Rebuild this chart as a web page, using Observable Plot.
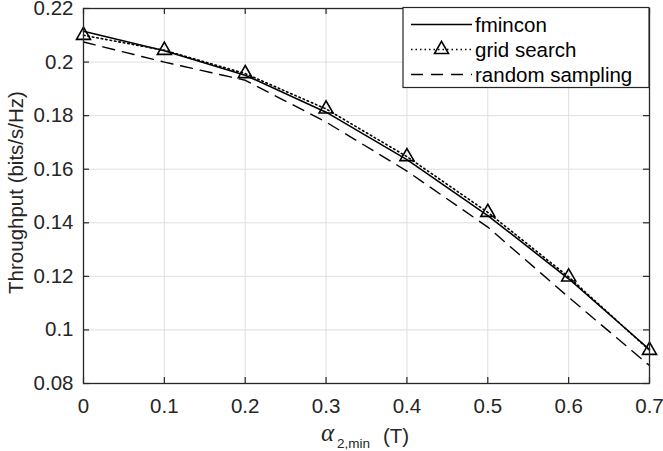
<!DOCTYPE html>
<html>
<head>
<meta charset="utf-8">
<script src="https://cdn.jsdelivr.net/npm/d3@7"></script>
<script src="https://cdn.jsdelivr.net/npm/@observablehq/plot@0.6"></script>
<style>
  html, body { margin: 0; padding: 0; background: white; }
</style>
</head>
<body>
<div id="chart"></div>
<script>
// ---- data ----
const alphaMin = [0, 0.1, 0.2, 0.3, 0.4, 0.5, 0.6, 0.7];
const fmincon = [0.2115, 0.2042, 0.1951, 0.1813, 0.1636, 0.1427, 0.1191, 0.0927];
const gridSearch = [0.2100, 0.2044, 0.1957, 0.1825, 0.1647, 0.1439, 0.1198, 0.0924];
const randomSampling = [0.2075, 0.2000, 0.1932, 0.1776, 0.1593, 0.1384, 0.1122, 0.0867];
const xTicks = [0, 0.1, 0.2, 0.3, 0.4, 0.5, 0.6, 0.7];
const yTicks = [0.08, 0.1, 0.12, 0.14, 0.16, 0.18, 0.2, 0.22];
const seriesNames = ["fmincon", "grid search", "random sampling"];

const rows = alphaMin.map((x, i) => ({
  x, fmincon: fmincon[i], grid: gridSearch[i], random: randomSampling[i]
}));

const W = 663, H = 451, mL = 83, mR = 14, mT = 8, mB = 68;
const innerH = H - mT - mB;
const innerW = W - mL - mR;
const axisColor = "#262626";
const tick = 6;

const chart = Plot.plot({
  width: W, height: H,
  marginLeft: mL, marginRight: mR, marginTop: mT, marginBottom: mB,
  style: { fontFamily: "'Liberation Sans', Arial, Helvetica, sans-serif", fontSize: "20.5px", color: axisColor, background: "white", overflow: "visible" },
  x: { domain: [0, 0.7] },
  y: { domain: [0.08, 0.22] },
  marks: [
    Plot.gridX(xTicks, { x: d => d, stroke: "#dfdfdf", strokeOpacity: 1, strokeWidth: 1 }),
    Plot.gridY(yTicks, { y: d => d, stroke: "#dfdfdf", strokeOpacity: 1, strokeWidth: 1 }),
    Plot.line(rows, { x: "x", y: "random", stroke: "black", strokeWidth: 1.4, strokeDasharray: "12,8" }),
    Plot.line(rows, { x: "x", y: "grid", stroke: "black", strokeWidth: 1.6, strokeDasharray: "1.5,3" }),
    Plot.line(rows, { x: "x", y: "fmincon", stroke: "black", strokeWidth: 1.6 }),
    Plot.dot(rows, { x: "x", y: "grid", symbol: "triangle", r: 5.2, stroke: "black", strokeWidth: 1.6, fill: "none" }),
    // inward ticks on all four sides
    Plot.tickX(xTicks, { x: d => d, insetTop: innerH - tick, stroke: axisColor, strokeWidth: 1.2 }),
    Plot.tickX(xTicks, { x: d => d, insetBottom: innerH - tick, stroke: axisColor, strokeWidth: 1.2 }),
    Plot.tickY(yTicks, { y: d => d, insetRight: innerW - tick, stroke: axisColor, strokeWidth: 1.2 }),
    Plot.tickY(yTicks, { y: d => d, insetLeft: innerW - tick, stroke: axisColor, strokeWidth: 1.2 }),
    Plot.axisX(xTicks, { tickSize: 0, tickPadding: 15, tickFormat: d => String(d), label: null, fill: axisColor }),
    Plot.axisY(yTicks, { tickSize: 0, tickPadding: 10, tickFormat: d => String(d), label: null, fill: axisColor }),
    Plot.frame({ stroke: axisColor, strokeWidth: 1.3 })
  ]
});

const svg = d3.select(chart);

// y-axis label
svg.append("text")
  .attr("transform", `translate(23, ${mT + innerH / 2 - 3}) rotate(-90)`)
  .attr("text-anchor", "middle")
  .attr("fill", axisColor)
  .style("font-size", "20.5px")
  .text("Throughput (bits/s/Hz)");

// x-axis label: α_{2,min} (T)
const xl = svg.append("text").attr("fill", axisColor).attr("text-anchor", "start");
xl.append("tspan").attr("x", 321).attr("y", 441)
  .style("font-family", "'Liberation Serif', 'DejaVu Serif', serif")
  .style("font-style", "italic").style("font-size", "25px").text("α");
xl.append("tspan").attr("x", 337).attr("y", 448)
  .style("font-size", "13.5px").text("2,min");
xl.append("tspan").attr("x", 383).attr("y", 443)
  .style("font-size", "20.5px").text("(T)");

// legend
const lg = svg.append("g").attr("text-anchor", "start");
const lx = 403, ly = 7.5, lw = W - mR - lx, lh = 80;
lg.append("rect").attr("x", lx).attr("y", ly).attr("width", lw).attr("height", lh)
  .attr("fill", "white").attr("stroke", axisColor).attr("stroke-width", 1.2);
const styles = [
  { dash: null, marker: false },
  { dash: "1.5,3", marker: true },
  { dash: "12,8", marker: false }
];
seriesNames.forEach((name, i) => {
  const cy = 24.5 + i * 25;
  const l = lg.append("line").attr("x1", 411).attr("x2", 472).attr("y1", cy).attr("y2", cy)
    .attr("stroke", "black").attr("stroke-width", 1.5);
  if (styles[i].dash) l.attr("stroke-dasharray", styles[i].dash);
  if (styles[i].marker) {
    lg.append("path").attr("d", d3.symbol(d3.symbolTriangle, 5.2 * 5.2 * Math.PI)())
      .attr("transform", `translate(441.5, ${cy})`)
      .attr("fill", "none").attr("stroke", "black").attr("stroke-width", 1.6);
  }
  lg.append("text").attr("x", 475).attr("y", cy + 7.5).attr("fill", "black")
    .attr("text-anchor", "start")
    .style("font-size", "20.5px").text(name);
});

document.getElementById("chart").appendChild(chart);
</script>
</body>
</html>
